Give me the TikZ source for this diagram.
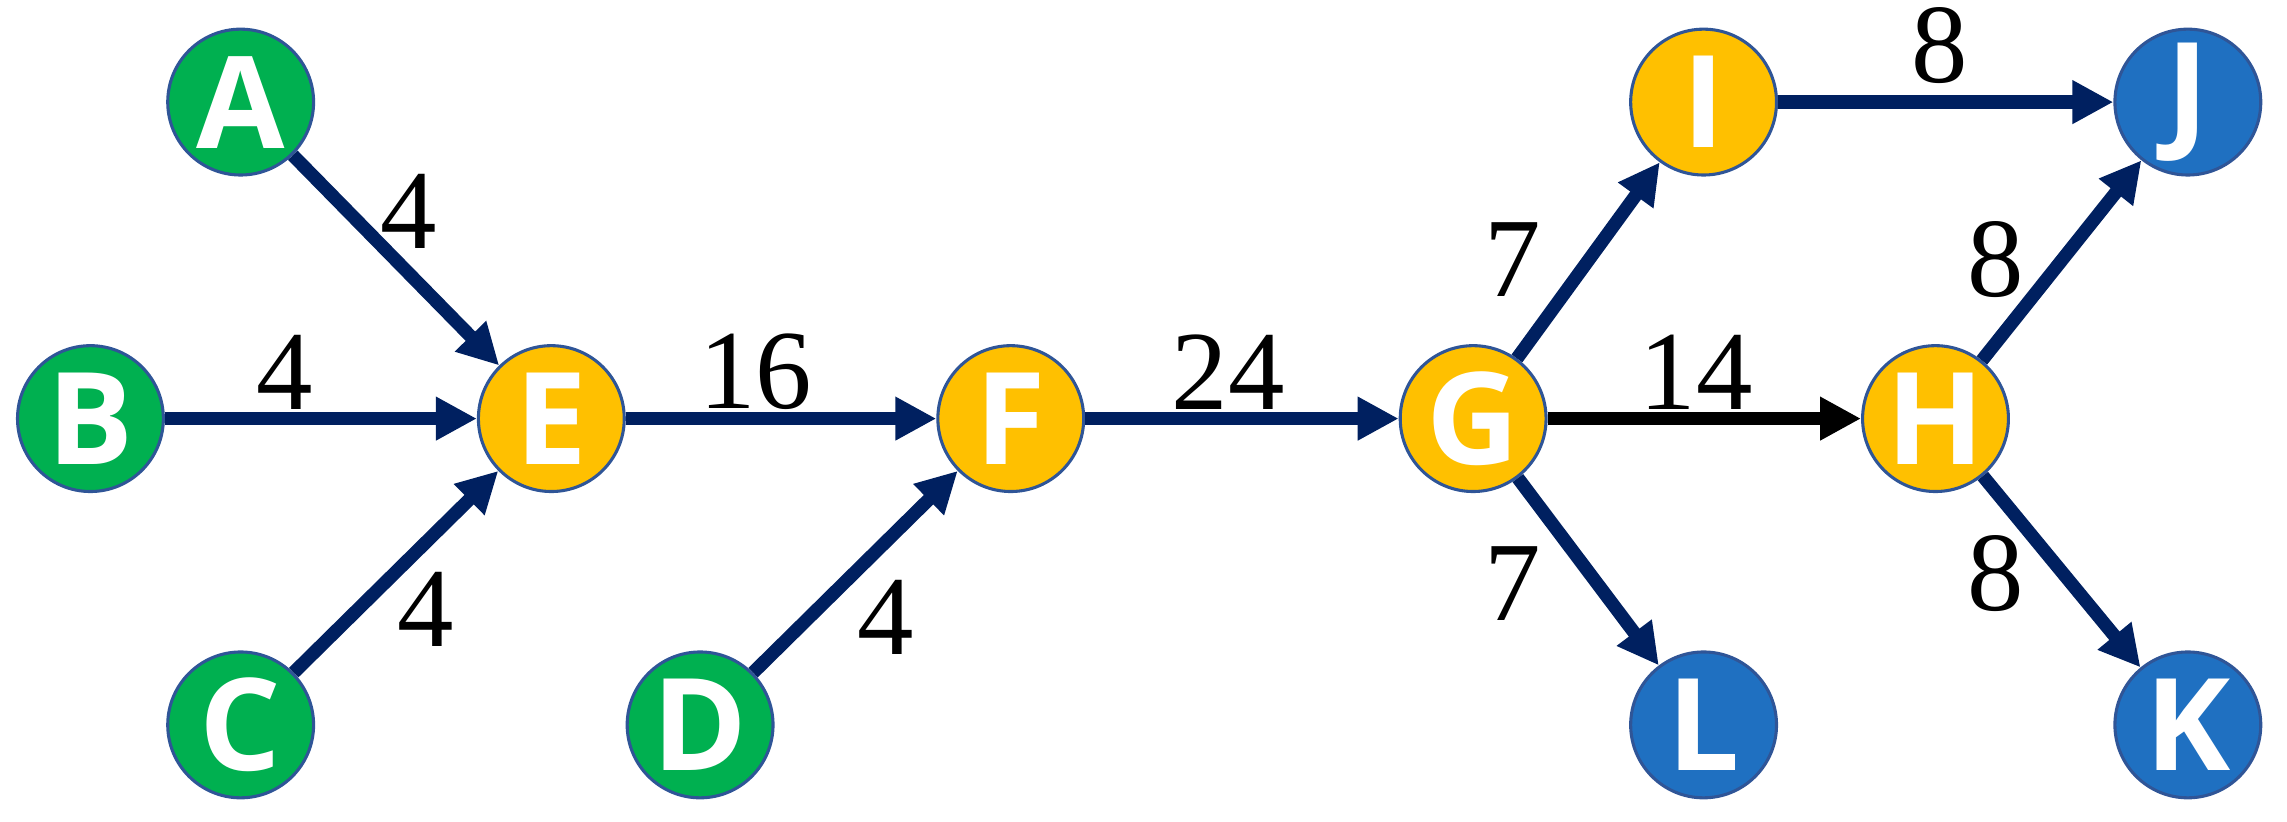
\documentclass[tikz,border=0pt]{standalone}
\usepackage{fontspec}
\newfontfamily\nodefont{Open Sans}
\setmainfont{Liberation Serif}
\usetikzlibrary{arrows.meta}
\definecolor{cgreen}{HTML}{00B050}
\definecolor{corange}{HTML}{FFC000}
\definecolor{cblue}{HTML}{1F70C1}
\definecolor{cnavy}{HTML}{002060}
\definecolor{cedge}{HTML}{2F5597}
\begin{document}
\begin{tikzpicture}[
  nd/.style={circle,draw=cedge,line width=0.6pt,minimum size=1cm,inner sep=0pt,text=white,font=\nodefont\bfseries\fontsize{25}{25}\selectfont},
  g/.style={nd,fill=cgreen}, o/.style={nd,fill=corange}, b/.style={nd,fill=cblue},
  ar/.style={draw=cnavy,line width=2.6pt,-{Triangle[length=8pt,width=8pt]}},
  lb/.style={font=\fontsize{22}{22}\selectfont}]
\useasboundingbox (0,0) rectangle (15.68,5.63);
\node[g] (A) at (1.65,4.93) {A};
\node[g] (B) at (0.62,2.76) {B};
\node[g] (C) at (1.65,0.66) {C};
\node[g] (D) at (4.80,0.66) {D};
\node[o] (E) at (3.78,2.76) {E};
\node[o] (F) at (6.93,2.76) {F};
\node[o] (G) at (10.10,2.76) {G};
\node[o] (H) at (13.27,2.76) {H};
\node[o] (I) at (11.68,4.93) {I};
\node[b] (J) at (15.00,4.93) {J};
\node[b] (K) at (15.00,0.66) {K};
\node[b] (L) at (11.68,0.66) {L};
\draw[ar] (A) -- (E);
\draw[ar] (B) -- (E);
\draw[ar] (C) -- (E);
\draw[ar] (E) -- (F);
\draw[ar] (D) -- (F);
\draw[ar] (F) -- (G);
\draw[ar,draw=black] (G) -- (H);
\draw[ar] (G) -- (I);
\draw[ar] (G) -- (L);
\draw[ar] (I) -- (J);
\draw[ar] (H) -- (J);
\draw[ar] (H) -- (K);
\node[lb] (l1) at (2.80,4.18) {4};
\node[lb] (l2) at (1.95,3.08) {4};
\node[lb] (l3) at (2.92,1.45) {4};
\node[lb] (l4) at (6.07,1.40) {4};
\node[lb] (l5) at (5.18,3.08) {16};
\node[lb] (l6) at (8.42,3.08) {24};
\node[lb] (l7) at (11.63,3.08) {14};
\node[lb] (l8) at (10.37,3.85) {7};
\node[lb] (l9) at (10.37,1.63) {7};
\node[lb] (l10) at (13.30,5.32) {8};
\node[lb] (l11) at (13.68,3.85) {8};
\node[lb] (l12) at (13.68,1.70) {8};
\end{tikzpicture}
\end{document}
